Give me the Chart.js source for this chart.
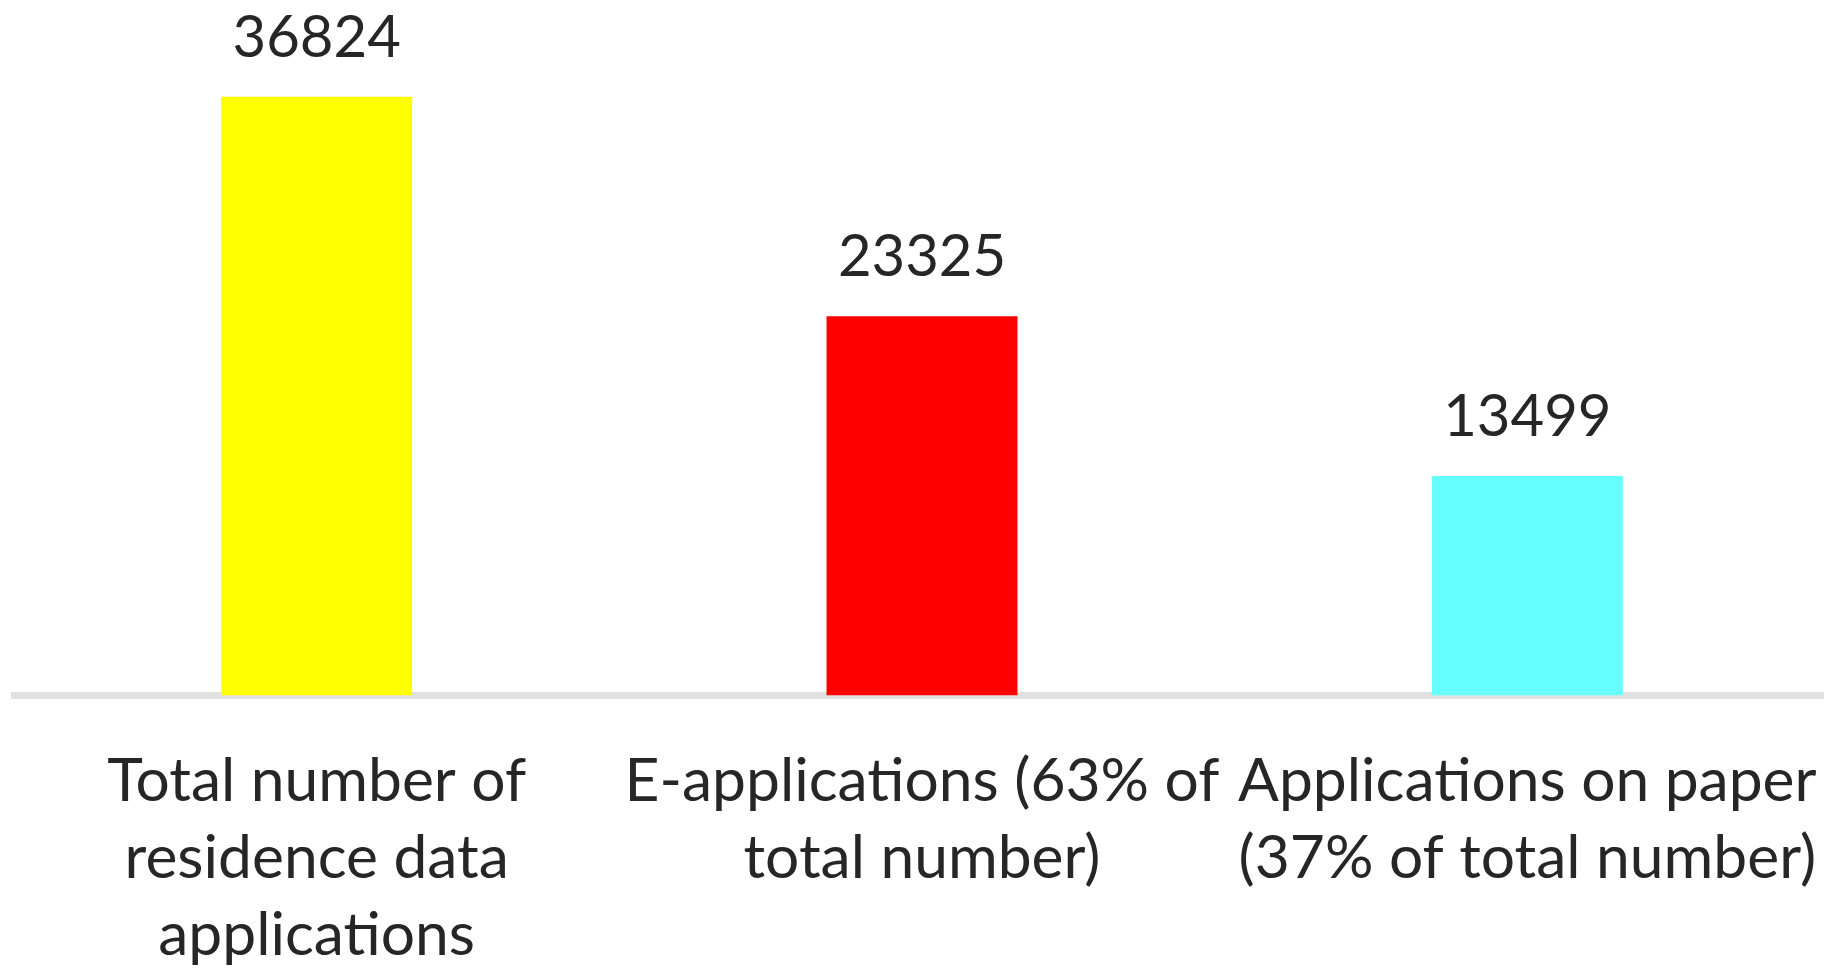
<!DOCTYPE html>
<html>
<head>
<meta charset="utf-8">
<script src="https://cdn.jsdelivr.net/npm/chart.js@4/dist/chart.umd.min.js"></script>
<style>
  html, body { margin: 0; padding: 0; background: #ffffff; overflow: hidden; }
  #wrap { width: 1824px; height: 970px; overflow: hidden; position: relative; }
  canvas { display: block; }
</style>
</head>
<body>
<div id="wrap"><canvas id="c" width="1830" height="974"></canvas></div>
<script>
const categories = [
  ["Total number of", "residence data", "applications"],
  ["E-applications (63% of", "total number)"],
  ["Applications on paper", "(37% of total number)"]
];
const values = [36824, 23325, 13499];
const barColors = ["#FFFF00", "#FF0000", "#66FFFF"];

const valueLabels = {
  id: 'valueLabels',
  afterDatasetsDraw(chart) {
    const ctx = chart.ctx;
    const meta = chart.getDatasetMeta(0);
    ctx.save();
    ctx.font = '58px Lato';
    ctx.fillStyle = '#262626';
    ctx.textAlign = 'center';
    ctx.textBaseline = 'alphabetic';
    meta.data.forEach((bar, i) => {
      ctx.fillText(String(values[i]), bar.x, bar.y - 40);
    });
    ctx.restore();
  }
};

function draw() {
  new Chart(document.getElementById('c'), {
    type: 'bar',
    data: {
      labels: categories,
      datasets: [{
        data: values,
        backgroundColor: barColors,
        borderWidth: 0,
        categoryPercentage: 1,
        barPercentage: 0.3155
      }]
    },
    options: {
      responsive: false,
      animation: false,
      layout: { padding: { top: 45, left: 14, right: 0, bottom: 0 } },
      plugins: { legend: { display: false }, tooltip: { enabled: false } },
      scales: {
        x: {
          grid: {
            display: true,
            drawOnChartArea: false,
            drawTicks: true,
            tickLength: 47,
            color: 'rgba(0,0,0,0)'
          },
          border: { display: true, color: '#e0e0e0', width: 7 },
          ticks: {
            autoSkip: false,
            maxRotation: 0,
            minRotation: 0,
            padding: 0,
            color: '#262626',
            font: { family: 'Lato', size: 60.5, lineHeight: 1.275 }
          }
        },
        y: {
          display: false,
          min: 0,
          max: 40000
        }
      }
    },
    plugins: [valueLabels]
  });
}

if (document.fonts && document.fonts.load) {
  Promise.all([document.fonts.load('60px Lato'), document.fonts.load('58px Lato')]).then(draw, draw);
} else {
  draw();
}
</script>
</body>
</html>
